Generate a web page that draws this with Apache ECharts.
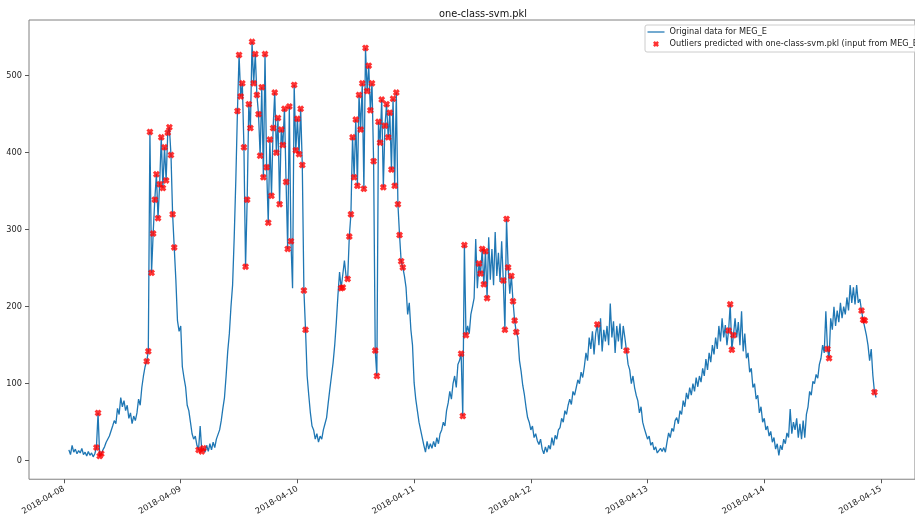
<!DOCTYPE html>
<html>
<head>
<meta charset="utf-8">
<script src="https://cdn.jsdelivr.net/npm/echarts@6/dist/echarts.min.js"></script>
<style>
  html, body { margin: 0; padding: 0; background: #ffffff; }
  #chart { width: 915px; height: 517px; }
</style>
</head>
<body>
<div id="chart"></div>
<script>
// MEG_E readings, one every 20 minutes from 2018-04-08 01:00 (three values per hour, rows are hours)
const megE = [
  // 2018-04-08
  14, 8, 20,  11, 15, 9,  13, 10, 16,  8, 11, 6,  12, 7, 10,  5, 9, 17,
  62, 6, 9,  14, 18, 24,  22, 32, 30,  45, 52, 48,  68, 60, 82,  70, 78, 65,
  72, 55, 62,  48, 58, 52,  62, 80, 72,  95, 110, 122,  129, 142, 427,  244, 295, 339,
  372, 315, 359,  420, 354, 407,  364, 426, 433,  397, 320, 277,  235, 182, 168,  175, 122, 108,
  // 2018-04-09
  96, 72, 65,  50, 35, 28,  32, 20, 14,  45, 12, 16,  11, 20, 12,  22, 14, 24,
  17, 28, 26,  40, 52, 68,  82, 110, 142,  165, 200, 228,  290, 365, 454,  527, 473, 490,
  407, 252, 339,  463, 432, 544,  490, 528, 475,  450, 396, 485,  368, 528, 381,  309, 417, 344,
  432, 478, 400,  445, 333, 430,  410, 457, 362,  275, 460, 285,  224, 488, 403,  444, 398, 457,
  // 2018-04-10
  384, 221, 170,  110, 85, 62,  45, 40, 28,  35, 24, 32,  28, 40, 48,  56, 75, 93,
  110, 127, 150,  180, 215, 245,  224, 225, 260,  240, 236, 291,  320, 420, 368,  443, 357, 475,
  430, 490, 353,  536, 480, 513,  455, 490, 389,  143, 110, 440,  413, 469, 355,  435, 463, 420,
  452, 378, 470,  357, 478, 333,  293, 259, 251,  240, 225, 190,  205, 170, 150,  101, 80, 65,
  // 2018-04-11
  50, 40, 30,  20, 11, 25,  15, 22, 16,  25, 18, 30,  22, 35, 40,  50, 45, 65,
  75, 90, 80,  100, 110, 95,  125, 130, 139,  58, 280, 163,  175, 165, 190,  200, 211, 288,
  224, 256, 243,  275, 229, 272,  211, 290, 235,  275, 228, 297,  240, 270, 232,  285, 234, 170,
  314, 251, 217,  240, 207, 182,  167, 160, 130,  116, 98, 86,  70, 56, 50,  40, 45, 30,
  // 2018-04-12
  35, 26, 21,  28, 15, 9,  18, 11, 20,  15, 30, 20,  33, 28, 40,  43, 55, 50,
  65, 60, 72,  80, 73, 90,  85, 95, 105,  100, 115, 108,  122, 140, 130,  160, 145, 168,
  138, 165, 177,  150, 185, 142,  170, 155, 175,  150, 204, 160,  181, 140, 175,  155, 178, 145,
  175, 160, 143,  125, 118, 100,  110, 95, 85,  78, 62, 70,  50, 42, 35,  28, 32, 20,
  // 2018-04-13
  24, 14, 18,  10, 9, 16,  12, 17, 11,  24, 36, 30,  42, 38, 52,  56, 48, 65,
  60, 78, 70,  88, 80, 95,  85, 100, 90,  108, 96, 110,  102, 120, 110,  132, 118, 140,
  128, 150, 138,  160, 145, 175,  155, 185, 160,  176, 150, 169,  203, 144, 163,  185, 160, 180,
  150, 194, 142,  165, 133, 140,  115, 120, 95,  100, 80, 85,  62, 70, 50,  55, 40, 45,
  // 2018-04-14
  32, 38, 24,  30, 15, 22,  7, 20, 14,  28, 22, 36,  30, 67, 35,  50, 40, 55,
  30, 48, 28,  52, 30, 60,  70, 90, 85,  103, 100, 112,  107, 125, 133,  150, 140, 194,
  145, 133, 185,  170, 200, 175,  195, 180, 205,  185, 200, 190,  212, 195, 228,  205, 225, 203,
  228, 205, 210,  195, 183, 182,  163, 150, 130,  145, 111, 89,  82
];

// Positions (in megE) of the readings flagged as outliers by the model
const outlierIdx = [
  17, 18, 19, 20,
  48, 49, 50, 51, 52, 53, 54, 55, 56, 57, 58, 59, 60, 61, 62, 63, 64, 65,
  80, 82, 83,
  104, 105, 106, 107, 108, 109, 110, 111, 112, 113, 114, 115, 116, 117, 118, 119, 120,
  121, 122, 123, 124, 125, 126, 127, 128, 129, 130, 131, 132, 133, 134, 135, 136, 137,
  139, 140, 141, 142, 143, 144, 145, 146,
  168, 169, 172, 173, 174, 175, 176, 177, 178, 179, 180, 181, 182, 183, 184, 185, 186,
  187, 188, 189, 190, 191, 192, 193, 194, 195, 196, 197, 198, 199, 200, 201, 202, 203,
  204, 205, 206,
  242, 243, 244, 245,
  253, 254, 255, 256, 257, 258,
  268, 269, 270, 271, 273, 274, 275, 276,
  326, 344,
  407, 408, 409, 410,
  468, 469,
  489, 490, 491,
  497
];

const tickLabels = ['2018-04-08', '2018-04-09', '2018-04-10', '2018-04-11',
                    '2018-04-12', '2018-04-13', '2018-04-14', '2018-04-15'];
const yTicks = [0, 100, 200, 300, 400, 500];

const seriesName = 'Original data for MEG_E';
const outlierName = 'Outliers predicted with one-class-svm.pkl (input from MEG_E)';

const HOUR = 3600 * 1000;
const firstReading = new Date(2018, 3, 8, 1, 0, 0).getTime();
const stepMs = 20 * 60 * 1000;

const lineData = megE.map((v, i) => [firstReading + i * stepMs, v]);
const outlierData = outlierIdx.map(i => lineData[i]);

const tickTimes = tickLabels.map(s => {
  const [y, m, d] = s.split('-').map(Number);
  return new Date(y, m - 1, d).getTime();
});
const dayStart = tickTimes[0];

const FONT = 'DejaVu Sans';
// filled "X" marker
const xMarker = 'path://M0,3 L3,0 L5,2 L7,0 L10,3 L8,5 L10,7 L7,10 L5,8 L3,10 L0,7 L2,5 Z';
// plain line sample for the legend
const lineIcon = 'path://M0,0 L34,0 L34,2.5 L0,2.5 Z';

const chart = echarts.init(document.getElementById('chart'), null, { renderer: 'canvas' });

chart.setOption({
  animation: false,
  backgroundColor: '#ffffff',
  title: {
    text: 'one-class-svm.pkl',
    left: 478,
    top: 4,
    textAlign: 'center',
    textStyle: { fontFamily: FONT, fontSize: 9.8, fontWeight: 'normal', color: '#111111' }
  },
  legend: {
    orient: 'vertical',
    left: 645,
    top: 25,
    padding: [2, 4, 3, 2.5],
    itemGap: 2,
    itemWidth: 17,
    itemHeight: 6,
    backgroundColor: 'rgba(255,255,255,0.85)',
    borderColor: '#cccccc',
    borderWidth: 1,
    borderRadius: 2,
    textStyle: { fontFamily: FONT, fontSize: 8.2, color: '#222222', lineHeight: 10 },
    data: [
      { name: seriesName, icon: lineIcon },
      { name: outlierName }
    ]
  },
  grid: {
    left: 29,
    top: 20,
    width: 898,
    height: 462,
    show: true,
    borderColor: '#808080',
    borderWidth: 1,
    backgroundColor: 'transparent'
  },
  xAxis: {
    type: 'value',
    min: dayStart - 7.2 * HOUR,
    max: dayStart + 175 * HOUR,
    axisLine: { show: false, onZero: false },
    splitLine: { show: false },
    axisTick: {
      show: true,
      customValues: tickTimes,
      length: 4,
      lineStyle: { color: '#555555', width: 1 }
    },
    axisLabel: {
      customValues: tickTimes,
      rotate: 30,
      margin: 9,
      fontFamily: FONT,
      fontSize: 8.2,
      color: '#222222',
      formatter: function (v) {
        const k = tickTimes.indexOf(v);
        return k >= 0 ? tickLabels[k] : '';
      }
    }
  },
  yAxis: {
    type: 'value',
    min: -24.1,
    max: 572.3,
    axisLine: { show: false, onZero: false },
    splitLine: { show: false },
    axisTick: {
      show: true,
      customValues: yTicks,
      length: 4,
      lineStyle: { color: '#555555', width: 1 }
    },
    axisLabel: {
      customValues: yTicks,
      margin: 7,
      fontFamily: FONT,
      fontSize: 8.2,
      color: '#222222'
    }
  },
  series: [
    {
      name: seriesName,
      type: 'line',
      data: lineData,
      symbol: 'none',
      showSymbol: false,
      lineStyle: { color: '#1f77b4', width: 1.3 },
      itemStyle: { color: '#1f77b4' },
      z: 2
    },
    {
      name: outlierName,
      type: 'scatter',
      data: outlierData,
      symbol: xMarker,
      symbolSize: 7,
      itemStyle: { color: '#ff0000' },
      z: 3
    }
  ]
});
</script>
</body>
</html>
